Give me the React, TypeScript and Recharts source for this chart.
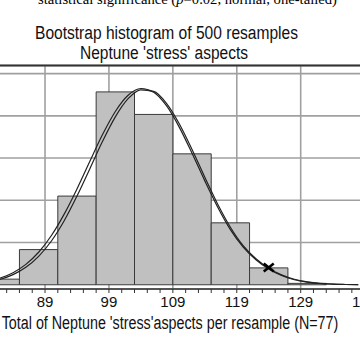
import React from 'react';
import { ComposedChart, Line, Scatter, XAxis, YAxis, CartesianGrid, ReferenceArea } from 'recharts';

// histogram bins (width 6) and resample counts
const binEdges = [79, 85, 91, 97, 103, 109, 115, 121, 127, 133];
const binCounts = [4, 25, 63, 137, 121, 93, 44, 12, 1];

// two fitted curves
const curveX = [80, 82, 84, 86, 88, 90, 92, 94, 96, 98, 100, 102, 104, 106, 108, 110, 112, 114, 116, 118, 120, 122, 124, 126, 128, 130, 132, 134, 136, 138];
const fitA = [2.6, 4.8, 8.6, 14.5, 23.1, 35.0, 50.2, 68.1, 87.6, 106.7, 123.1, 134.6, 139.4, 136.8, 127.2, 112.0, 93.4, 73.8, 55.3, 39.2, 26.8, 17.8, 11.2, 6.6, 3.6, 1.9, 0.9, 0.4, 0.2, 0.1];
const fitB = [2.0, 3.9, 7.2, 12.4, 20.2, 31.1, 45.5, 63.0, 82.3, 101.9, 119.3, 132.2, 138.5, 137.4, 128.9, 114.4, 96.1, 76.4, 57.4, 40.9, 27.8, 18.5, 11.8, 7.0, 3.9, 2.1, 1.0, 0.5, 0.2, 0.1];

// observed total
const observedX = [124];
const observedY = [12.2];

const majorTicks = [89, 99, 109, 119, 129, 139];
const minorTicks = [79, 81, 83, 85, 87, 89, 91, 93, 95, 97, 99, 101, 103, 105, 107, 109, 111, 113, 115, 117, 119, 121, 123, 125, 127, 129, 131, 133, 135, 137, 139, 141];
const countTicks = [30, 60, 90, 120, 150];

const curveData = curveX.map((x, i) => ({ x, a: fitA[i], b: fitB[i] }));
const observedData = observedX.map((x, i) => ({ x, y: observedY[i] }));

const sans = '"Liberation Sans", Arial, sans-serif';

const BottomTick = (props: any) => {
  const { x, y, payload } = props;
  if (!majorTicks.includes(payload.value)) return null;
  return (
    <text x={x} y={y} dy={12} textAnchor="middle" fontFamily={sans} fontSize={15} fill="#111">
      {payload.value}
    </text>
  );
};

const XMark = (props: any) => {
  const { cx, cy } = props;
  return (
    <g stroke="#000" strokeWidth={2.6}>
      <line x1={cx - 5} y1={cy - 4} x2={cx + 5} y2={cy + 4} />
      <line x1={cx - 5} y1={cy + 4} x2={cx + 5} y2={cy - 4} />
    </g>
  );
};

export default function App() {
  return (
    <div style={{ position: 'fixed', left: 0, top: 0, width: 360, height: 360, overflow: 'hidden', background: '#fff' }}>
      <div style={{ position: 'absolute', left: -40, top: 0 }}>
        <ComposedChart
          width={440}
          height={360}
          data={curveData}
          margin={{ top: 65.5, right: 22.6, bottom: 41, left: 21.1 }}
        >
          <XAxis xAxisId="major" dataKey="x" type="number" domain={[79, 141]} ticks={majorTicks} allowDataOverflow hide />
          <CartesianGrid xAxisId="major" stroke="#a0a0a0" strokeWidth={1.6} />
          <XAxis
            dataKey="x"
            type="number"
            domain={[79, 141]}
            ticks={minorTicks}
            interval={0}
            allowDataOverflow
            height={30}
            axisLine={{ stroke: '#333', strokeWidth: 1.5 }}
            tickLine={{ stroke: '#333' }}
            tickSize={4}
            tick={<BottomTick />}
          />
          <XAxis
            xAxisId="top"
            orientation="top"
            mirror
            dataKey="x"
            type="number"
            domain={[79, 141]}
            ticks={minorTicks}
            interval={0}
            allowDataOverflow
            axisLine={{ stroke: '#333', strokeWidth: 2 }}
            tickLine={{ stroke: '#333' }}
            tickSize={3}
            tick={false}
          />
          <YAxis type="number" domain={[-3, 155.75]} ticks={countTicks} allowDataOverflow hide />
          {binCounts.map((c, i) => (
            <ReferenceArea
              key={i}
              x1={binEdges[i]}
              x2={binEdges[i + 1]}
              y1={0}
              y2={c}
              fill="#c0c0c0"
              fillOpacity={1}
              stroke="#3a3a3a"
              strokeWidth={1}
              ifOverflow="visible"
            />
          ))}
          <Line type="monotone" dataKey="a" stroke="#222" strokeWidth={1.2} dot={false} isAnimationActive={false} />
          <Line type="monotone" dataKey="b" stroke="#222" strokeWidth={1.2} dot={false} isAnimationActive={false} />
          <Scatter data={observedData} dataKey="y" shape={<XMark />} isAnimationActive={false} />
        </ComposedChart>
      </div>
      <svg width={360} height={360} style={{ position: 'absolute', left: 0, top: 0, pointerEvents: 'none' }}>
        <text x={187.5} y={4} textAnchor="middle" fontFamily='"Liberation Serif", "Times New Roman", serif' fontSize={15} fill="#000" textLength={299} lengthAdjust="spacingAndGlyphs">
          statistical significance (<tspan fontStyle="italic">p</tspan>=0.02, normal, one-tailed)
        </text>
        <text x={166.5} y={39.3} textAnchor="middle" fontFamily={sans} fontSize={17.6} fill="#111" textLength={263} lengthAdjust="spacingAndGlyphs">
          Bootstrap histogram of 500 resamples
        </text>
        <text x={164} y={59.3} textAnchor="middle" fontFamily={sans} fontSize={17.6} fill="#111" textLength={168} lengthAdjust="spacingAndGlyphs">
          Neptune 'stress' aspects
        </text>
        <text x={170} y={329} textAnchor="middle" fontFamily={sans} fontSize={17.6} fill="#111" textLength={336.6} lengthAdjust="spacingAndGlyphs">
          Total of Neptune 'stress'aspects per resample (N=77)
        </text>
      </svg>
    </div>
  );
}
